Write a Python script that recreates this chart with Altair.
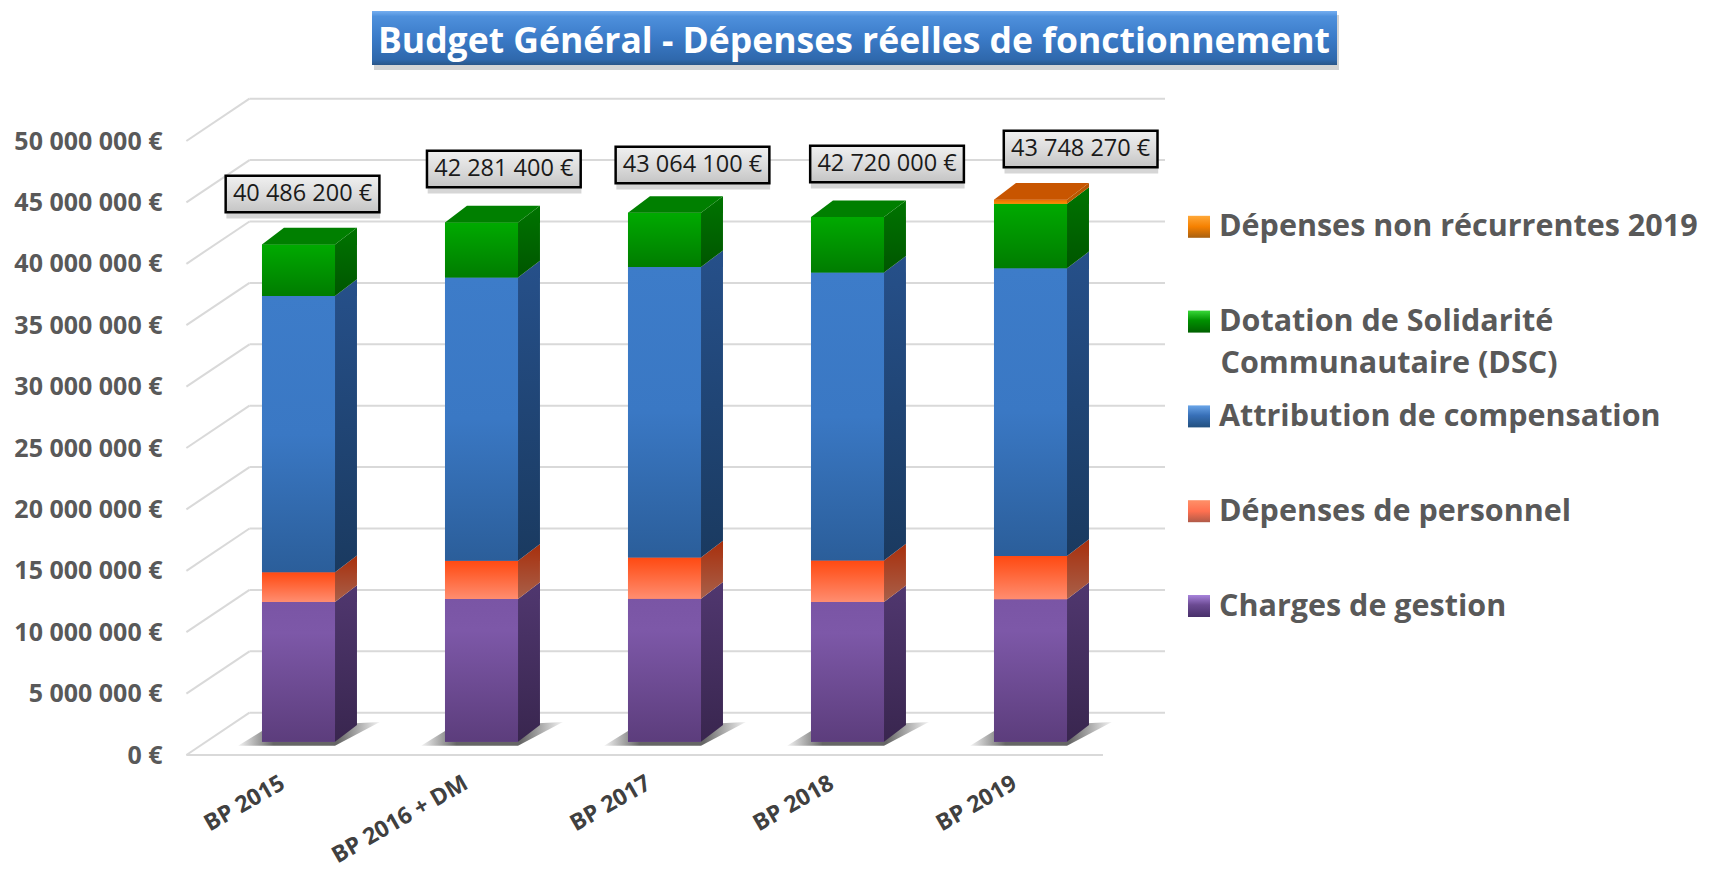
import altair as alt
import pandas as pd

categories = ["BP 2015", "BP 2016 + DM", "BP 2017", "BP 2018", "BP 2019"]
series_names = [
    "Charges de gestion",
    "Dépenses de personnel",
    "Attribution de compensation",
    "Dotation de Solidarité Communautaire (DSC)",
    "Dépenses non récurrentes 2019",
]
charges = [11380000, 11620000, 11650000, 11370000, 11600000]
personnel = [2420000, 3120000, 3350000, 3380000, 3520000]
attribution = [22500000, 23060000, 23650000, 23450000, 23430000]
dsc = [4186200, 4481400, 4414100, 4520000, 5250000]
non_recurrent = [0, 0, 0, 0, 330000]
total_labels = ["40 486 200 €", "42 281 400 €", "43 064 100 €", "42 720 000 €", "43 748 270 €"]
y_ticks = [0, 5000000, 10000000, 15000000, 20000000, 25000000, 30000000, 35000000, 40000000, 45000000, 50000000]

all_series = [charges, personnel, attribution, dsc, non_recurrent]
mid_colors = ["#6b4a92", "#ff6a3c", "#3870b8", "#009000", "#f58000"]
front_stops = [
    [("#7a55a5", 0), ("#7d58a8", .22), ("#5c3d7c", 1)],
    [("#ff4a12", 0), ("#ff5a28", .25), ("#ff8d70", 1)],
    [("#3d7cc9", 0), ("#3a78c4", .5), ("#2b5e9a", 1)],
    [("#00aa00", 0), ("#009c00", .3), ("#007c00", 1)],
    [("#e87000", 0), ("#ff8c00", 1)],
]
side_stops = [
    [("#50376f", 0), ("#39264f", 1)],
    [("#a82f0c", 0), ("#a8604a", 1)],
    [("#26508a", 0), ("#1a3a60", 1)],
    [("#007400", 0), ("#005600", 1)],
    [("#b05000", 0), ("#c06000", 1)],
]
swatch_stops = [
    [("#a884dc", 0), ("#6b4a92", .45), ("#48306a", 1)],
    [("#ff9068", 0), ("#ff7050", .5), ("#b05a48", 1)],
    [("#6aa5e8", 0), ("#3870b8", .45), ("#22507f", 1)],
    [("#38d838", 0), ("#009000", .45), ("#006000", 1)],
    [("#ffa838", 0), ("#f58000", .5), ("#a86010", 1)],
]
top_colors = {3: "#007f00", 4: "#c85500"}

# 3D projection constants, in scale units
W, H = 1694, 865
PX_X = 183.0
PX_Y = 12.28 / 1e6
X_DOMAIN = [-290.5 / PX_X, (W - 290.5) / PX_X]
Y_DOMAIN = [(747 - H) / PX_Y, 747 / PX_Y]
HALF = 0.1995
DX = 0.12
DY = 16.7 / PX_Y
FLOOR = 13.3 / PX_Y
WALL_DY = 42.3 / PX_Y
XL_F, XL_B, XR_B, XR_F = -0.6126, -0.2678, 4.735, 4.396
label_u = [0.022, 1.122, 2.153, 3.216, 4.274]
label_v = [45680000, 47720000, 48050000, 48130000, 49350000]
BOX_HW, BOX_HH = 0.42, 1490000

x_s = alt.Scale(domain=X_DOMAIN, nice=False, zero=False)
y_s = alt.Scale(domain=Y_DOMAIN, nice=False, zero=False)
X = lambda f="x", **k: alt.X(f"{f}:Q", scale=x_s, title=None, **k)
Y = lambda f="y", **k: alt.Y(f"{f}:Q", scale=y_s, title=None, **k)
X2 = alt.X2("x2:Q")
Y2 = alt.Y2("y2:Q")


def grad(stops, horizontal=False):
    return alt.Gradient(
        gradient="linear",
        stops=[alt.GradientStop(color=c, offset=o) for c, o in stops],
        x1=0, x2=1 if horizontal else 0, y1=0, y2=0 if horizontal else 1,
    )


# rows
front, side, top = [], [], []
for i in range(len(categories)):
    lo = FLOOR
    top_idx = max(s for s in range(5) if all_series[s][i] > 0)
    for s, vals in enumerate(all_series):
        v = vals[i]
        if v <= 0:
            continue
        hi = lo + v
        front.append(dict(bar=i, s=s, name=series_names[s], x=i - HALF, x2=i + HALF, y=lo, y2=hi))
        side.append(dict(bar=i, s=s, x=i + HALF, y=lo, y2=hi))
        side.append(dict(bar=i, s=s, x=i + HALF + DX, y=lo + DY, y2=hi + DY))
        if s == top_idx:
            x0, x1 = i - HALF, i + HALF
            for xx, a, b in [(x0, hi, hi), (x0 + DX, hi, hi + DY), (x1, hi, hi + DY), (x1 + DX, hi + DY, hi + DY)]:
                top.append(dict(bar=i, s=s, x=xx, y=a, y2=b))
        lo = hi
front, side, top = map(pd.DataFrame, (front, side, top))

shadow = []
for i in range(5):
    for du, a, b in [(-.33, 757000, 757000), (-HALF, 757000, 1950000), (HALF, 757000, 2500000), (.445, 2690000, 2690000)]:
        shadow.append(dict(bar=i, x=i + du, y=a, y2=b))
shadow = pd.DataFrame(shadow)

grid_back = pd.DataFrame([dict(x=XL_B, x2=XR_B, y=v + WALL_DY) for v in y_ticks])
grid_diag = pd.DataFrame([dict(x=XL_F, x2=XL_B, y=v, y2=v + WALL_DY) for v in y_ticks])
floor = pd.DataFrame([dict(x=XL_F, x2=XR_F, y=0)])
boxes = pd.DataFrame(dict(
    x=[u - BOX_HW for u in label_u], x2=[u + BOX_HW for u in label_u],
    y=[v - BOX_HH for v in label_v], y2=[v + BOX_HH for v in label_v],
    cx=label_u, cy=label_v, label=total_labels,
))
shadow_boxes = boxes.assign(y=boxes.y - 500000, y2=boxes.y2 - 500000, x=boxes.x + 0.004, x2=boxes.x2 + 0.004)
legend_line2 = pd.DataFrame(dict(t=["Communautaire (DSC)"]))
one_row = pd.DataFrame(dict(a=[0]))

GRID = "#d9d9d9"
FONT = "Open Sans"
TEXT = "#595959"
cat_js = "[" + ",".join(f"'{c}'" for c in categories) + "]"

base_grid = (
    alt.Chart(grid_back).mark_rule(color=GRID, strokeWidth=2).encode(
        x=X(axis=alt.Axis(
            values=list(range(5)), labelExpr=f"{cat_js}[datum.value]", labelAngle=-30, labelAlign="right",
            labelBaseline="middle", labelFont=FONT, labelFontWeight="bold", labelFontSize=23, labelColor="#404040",
            labelPadding=23, labelOffset=-16, labelOverlap=False, labelFlush=False, labelBound=False,
            domain=False, ticks=False, grid=False, offset=-(H - 750), title=None,
        )),
        x2=X2,
        y=Y(axis=alt.Axis(
            values=y_ticks, labelExpr="replace(format(datum.value,',d'),regexp(',','g'),' ')+' €'",
            labelFont=FONT, labelFontWeight="bold", labelFontSize=25, labelColor=TEXT, labelPadding=4,
            labelOverlap=False, labelFlush=False, labelBound=False, domain=False, ticks=False, grid=False,
            offset=-158, title=None,
        )),
    )
)
layers = [
    base_grid,
    alt.Chart(grid_diag).mark_rule(color=GRID, strokeWidth=2).encode(x=X(), x2=X2, y=Y(), y2=Y2),
    alt.Chart(floor).mark_rule(color=GRID, strokeWidth=2).encode(x=X(), x2=X2, y=Y()),
    alt.Chart(shadow).mark_area(color=grad([("#f4f4f4", 0), ("#666666", .25), ("#666666", .7), ("#f4f4f4", 1)], True)).encode(
        x=X(), y=Y(), y2=Y2, detail="bar:N"),
    alt.Chart(front).mark_rect().encode(
        x=X(), x2=X2, y=Y(), y2=Y2,
        color=alt.Color("name:N", scale=alt.Scale(domain=series_names[::-1], range=mid_colors[::-1]), legend=alt.Legend(
            title=None, orient="none", legendX=1175, legendY=204.2, symbolType="square", symbolSize=441,
            symbolStrokeWidth=0, labelFont=FONT, labelFontWeight="bold", labelFontSize=30.5, labelColor=TEXT,
            labelLimit=1000, rowPadding=63.8, labelOffset=5.5, symbolOpacity=0,
            labelExpr="datum.label=='Dotation de Solidarité Communautaire (DSC)'?'Dotation de Solidarité':datum.label",
        )),
    ),
]
for s in range(5):
    layers.append(alt.Chart(side[side.s == s]).mark_area(color=grad(side_stops[s])).encode(x=X(), y=Y(), y2=Y2, detail="bar:N"))
    layers.append(alt.Chart(front[front.s == s]).mark_rect(color=grad(front_stops[s])).encode(x=X(), x2=X2, y=Y(), y2=Y2))
for s, c in top_colors.items():
    layers.append(alt.Chart(top[top.s == s]).mark_area(color=c).encode(x=X(), y=Y(), y2=Y2, detail="bar:N"))
layers += [
    alt.Chart(shadow_boxes).mark_rect(color="#bbbbbb", opacity=0.6).encode(x=X(), x2=X2, y=Y(), y2=Y2),
    alt.Chart(boxes).mark_rect(
        color=grad([("#f0f0f0", 0), ("#d8d8d8", .6), ("#c4c4c4", 1)]), stroke="#000000", strokeWidth=2.5
    ).encode(x=X(), x2=X2, y=Y(), y2=Y2),
    alt.Chart(boxes).mark_text(font=FONT, fontSize=23.5, color="#1a1a1a").encode(x=X("cx"), y=Y("cy"), text="label:N"),
    alt.Chart(legend_line2).mark_text(
        font=FONT, fontWeight="bold", fontSize=30.5, color=TEXT, align="left", baseline="middle"
    ).encode(x=alt.value(1212.5), y=alt.value(356), text="t:N"),
]
# bevelled legend swatches in the place of the legend's own symbols
for k, s in enumerate([4, 3, 2, 1, 0]):
    cy = 218.8 + k * 94.8
    layers.append(alt.Chart(one_row).mark_rect(color=grad(swatch_stops[s])).encode(
        x=alt.value(1180), x2=alt.value(1202), y=alt.value(cy - 11), y2=alt.value(cy + 11)))

# title banner behind the chart title
layers.insert(0, alt.Chart(one_row).mark_rect(color="#aaaaaa", opacity=0.5).encode(
    x=alt.value(366), x2=alt.value(1331), y=alt.value(7), y2=alt.value(62)))
layers.insert(1, alt.Chart(one_row).mark_rect(
    color=grad([("#74aef0", 0), ("#4e90dc", .1), ("#3b7bc8", .5), ("#2f68ac", .9), ("#2a5688", 1)])
).encode(x=alt.value(364), x2=alt.value(1329), y=alt.value(3), y2=alt.value(57)))

chart = (
    alt.layer(*layers)
    .properties(
        width=W, height=H, padding=0,
        autosize=alt.AutoSizeParams(type="none"),
        title=alt.TitleParams(
            "Budget Général - Dépenses réelles de fonctionnement",
            anchor="start", frame="group", dx=846, dy=80, align="center", baseline="alphabetic",
            font=FONT, fontWeight="bold", fontSize=35.5, color="#ffffff", zindex=1, offset=0,
        ),
    )
    .configure_view(strokeWidth=0)
)
chart.save("out.html", embed_options={"renderer": "svg", "actions": False})
